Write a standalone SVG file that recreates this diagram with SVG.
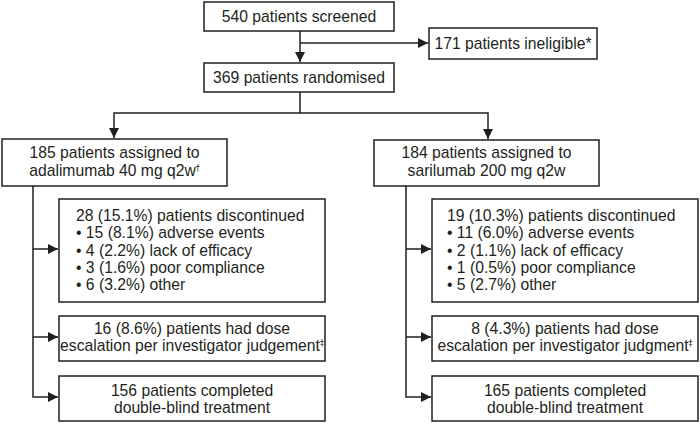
<svg xmlns="http://www.w3.org/2000/svg" width="700" height="423" viewBox="0 0 700 423">
<defs>
<marker id="ah" markerUnits="userSpaceOnUse" markerWidth="11" markerHeight="11" refX="10" refY="5" orient="auto">
<path d="M0,0 L10,5 L0,10 Z" fill="#231f20"/>
</marker>
<style>
rect{fill:#fff;stroke:#231f20;stroke-width:1.5}
text{font-family:"Liberation Sans",Arial,sans-serif;font-size:15.7px;fill:#231f20}
.c{text-anchor:middle}
.sup{font-family:"DejaVu Sans",sans-serif;font-size:8px;fill:#231f20}
#connectors path{fill:none;stroke:#231f20;stroke-width:1.5}
</style>
</defs>
<g id="connectors">
<path d="M300,31 V62" marker-end="url(#ah)"/>
<path d="M300,43 H428" marker-end="url(#ah)"/>
<path d="M300,92 V113 H114 V138" marker-end="url(#ah)"/>
<path d="M300,113 H488 V139" marker-end="url(#ah)"/>
<path d="M33,186 V397 H58" marker-end="url(#ah)"/>
<path d="M33,249 H58" marker-end="url(#ah)"/>
<path d="M33,337 H58" marker-end="url(#ah)"/>
<path d="M406,186 V397 H431" marker-end="url(#ah)"/>
<path d="M406,249 H431" marker-end="url(#ah)"/>
<path d="M406,337 H431" marker-end="url(#ah)"/>
</g>
<g id="screened">
<rect x="204" y="2" width="190" height="29"/>
<text class="c" x="299" y="22">540 patients screened</text>
</g>
<g id="ineligible">
<rect x="429" y="28" width="168" height="31"/>
<text class="c" x="513" y="49">171 patients ineligible*</text>
</g>
<g id="randomised">
<rect x="204" y="63" width="190" height="29"/>
<text class="c" x="299" y="83">369 patients randomised</text>
</g>
<g id="adalimumab">
<rect x="2" y="139" width="225" height="47"/>
<text class="c" x="114.5" y="158">185 patients assigned to</text>
<text class="c" x="114.5" y="176">adalimumab 40 mg q2w<tspan class="sup" dy="-5">†</tspan></text>
</g>
<g id="sarilumab">
<rect x="374" y="140" width="225" height="46"/>
<text class="c" x="486.5" y="158">184 patients assigned to</text>
<text class="c" x="486.5" y="176">sarilumab 200 mg q2w</text>
</g>
<g id="ada-discontinued">
<rect x="59" y="199" width="266" height="103"/>
<text x="76" y="221">28 (15.1%) patients discontinued</text>
<text x="76" y="238.3">• 15 (8.1%) adverse events</text>
<text x="76" y="255.6">• 4 (2.2%) lack of efficacy</text>
<text x="76" y="272.9">• 3 (1.6%) poor compliance</text>
<text x="76" y="290.2">• 6 (3.2%) other</text>
</g>
<g id="ada-escalation">
<rect x="59" y="316" width="266" height="45"/>
<text class="c" x="192" y="333.5">16 (8.6%) patients had dose</text>
<text class="c" x="192" y="351">escalation per investigator judgement<tspan class="sup" dy="-5">‡</tspan></text>
</g>
<g id="ada-completed">
<rect x="59" y="376" width="266" height="45"/>
<text class="c" x="192" y="396">156 patients completed</text>
<text class="c" x="192" y="413">double-blind treatment</text>
</g>
<g id="sari-discontinued">
<rect x="432" y="199" width="266" height="103"/>
<text x="447" y="221">19 (10.3%) patients discontinued</text>
<text x="447" y="238.3">• 11 (6.0%) adverse events</text>
<text x="447" y="255.6">• 2 (1.1%) lack of efficacy</text>
<text x="447" y="272.9">• 1 (0.5%) poor compliance</text>
<text x="447" y="290.2">• 5 (2.7%) other</text>
</g>
<g id="sari-escalation">
<rect x="432" y="316" width="266" height="45"/>
<text class="c" x="565" y="333.5">8 (4.3%) patients had dose</text>
<text class="c" x="565" y="351">escalation per investigator judgment<tspan class="sup" dy="-5">‡</tspan></text>
</g>
<g id="sari-completed">
<rect x="432" y="376" width="266" height="45"/>
<text class="c" x="565" y="396">165 patients completed</text>
<text class="c" x="565" y="413">double-blind treatment</text>
</g>
</svg>
